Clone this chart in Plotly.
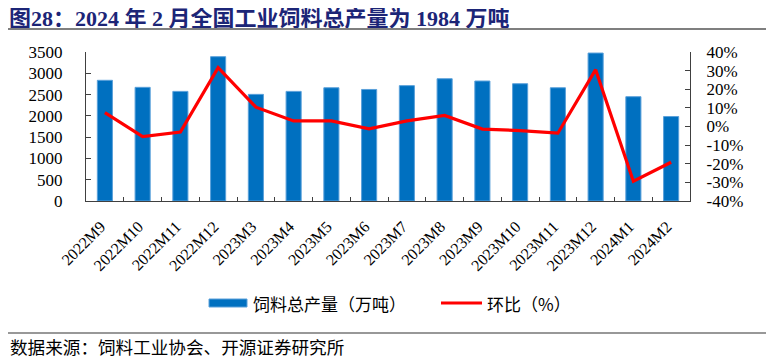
import plotly.graph_objects as go

categories = ["2022M9", "2022M10", "2022M11", "2022M12", "2023M3", "2023M4", "2023M5", "2023M6",
              "2023M7", "2023M8", "2023M9", "2023M10", "2023M11", "2023M12", "2024M1", "2024M2"]
feed_output = [2835, 2670, 2575, 3390, 2505, 2575, 2660, 2620,
               2710, 2872, 2818, 2755, 2660, 3475, 2450, 1984]
mom_pct = [7.4, -5.4, -3.0, 31.6, 10.4, 3.0, 3.0, -1.3,
           3.0, 5.9, -1.4, -2.2, -3.6, 30.5, -29.4, -19.2]
left_ticks = [0, 500, 1000, 1500, 2000, 2500, 3000, 3500]
right_ticks = [-40, -30, -20, -10, 0, 10, 20, 30, 40]
right_tick_text = ["-40%", "-30%", "-20%", "-10%", "0%", "10%", "20%", "30%", "40%"]

# page body margin offset (figure is drawn 8px from the window's top-left)
OFF = 8
W, H = 774 - OFF, 359 - OFF
L, R, T, B = 86 - OFF, 690 - OFF, 52 - OFF, 201 - OFF


def px(x):
    return (x - OFF - L) / (R - L)


def py(y):
    return (B - (y - OFF)) / (B - T)


serif = "Liberation Serif, Times New Roman, Noto Sans CJK SC"
cjk = "Noto Sans CJK SC, Liberation Serif"
axis_col = "#404040"

fig = go.Figure()
fig.add_trace(go.Bar(
    x=categories, y=feed_output, name="饲料总产量（万吨）",
    marker=dict(color="#0070C0", line=dict(color="#5AA0DA", width=1)),
    showlegend=False,
))
fig.add_trace(go.Scatter(
    x=categories, y=mom_pct, name="环比（%）", yaxis="y2", mode="lines",
    line=dict(color="#FF0000", width=3.2), showlegend=False,
))

fig.update_layout(
    width=W, height=H,
    margin=dict(l=L, r=W - R, t=T, b=H - B),
    plot_bgcolor="white", paper_bgcolor="white",
    bargap=0.6,
    xaxis=dict(
        type="category", showline=True, linecolor=axis_col, linewidth=1.2,
        ticks="inside", tickson="boundaries", ticklen=4, tickcolor=axis_col,
        tickangle=-45, tickfont=dict(family=serif, size=16, color="black"),
        showgrid=False, ticklabelstandoff=9, ticklabelshift=-4,
    ),
    yaxis=dict(
        range=[0, 3500], tickvals=left_ticks, showline=True, linecolor=axis_col,
        linewidth=1.2, ticks="inside", ticklen=5, tickcolor=axis_col,
        tickfont=dict(family=serif, size=17, color="black"), showgrid=False,
        zeroline=False, ticklabelstandoff=19,
    ),
    yaxis2=dict(
        range=[-40, 40], tickvals=right_ticks, ticktext=right_tick_text,
        overlaying="y", side="right", showline=True, linecolor=axis_col,
        linewidth=1.2, ticks="inside", ticklen=5, tickcolor=axis_col,
        tickfont=dict(family=serif, size=17, color="black"), showgrid=False,
        zeroline=False, ticklabelstandoff=12,
    ),
    showlegend=False,
)

shapes = [
    dict(type="line", xref="paper", yref="paper", x0=px(8), x1=px(772), y0=py(29), y1=py(29),
         line=dict(color="#555555", width=1.5)),
    dict(type="line", xref="paper", yref="paper", x0=px(8), x1=px(772), y0=py(333), y1=py(333),
         line=dict(color="#333333", width=1.2)),
    dict(type="rect", xref="paper", yref="paper", x0=px(209), x1=px(247), y0=py(307), y1=py(299),
         fillcolor="#0070C0", line=dict(color="#5AA0DA", width=1)),
    dict(type="line", xref="paper", yref="paper", x0=px(441), x1=px(482), y0=py(303), y1=py(303),
         line=dict(color="#FF0000", width=3)),
]
fig.update_layout(shapes=shapes)

annotations = [
    dict(text="<b>图28：2024 年 2 月全国工业饲料总产量为 1984 万吨</b>", xref="paper", yref="paper",
         x=px(8), y=py(18), xanchor="left", yanchor="middle", showarrow=False,
         height=20, borderpad=0,
         font=dict(family=serif, size=22, color="#1C2577")),
    dict(text="饲料总产量（万吨）", xref="paper", yref="paper", x=px(251), y=py(303),
         xanchor="left", yanchor="middle", showarrow=False,
         font=dict(family=cjk, size=17, color="black")),
    dict(text="环比（%）", xref="paper", yref="paper", x=px(485), y=py(303),
         xanchor="left", yanchor="middle", showarrow=False,
         font=dict(family=cjk, size=17, color="black")),
    dict(text="数据来源：饲料工业协会、开源证券研究所", xref="paper", yref="paper", x=px(8), y=py(346),
         xanchor="left", yanchor="middle", showarrow=False,
         font=dict(family=cjk, size=17.6, color="black")),
]
fig.update_layout(annotations=annotations)

fig.write_html("out.html")
